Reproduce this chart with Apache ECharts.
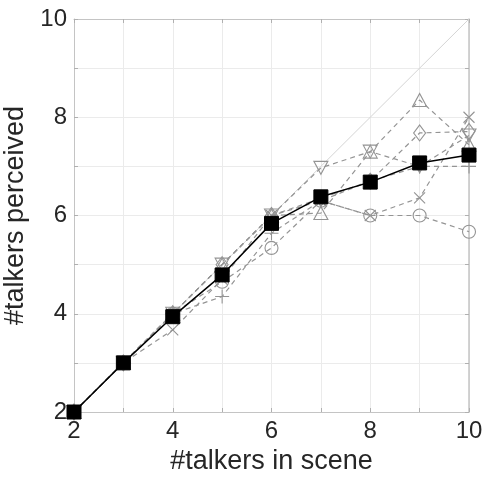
<!DOCTYPE html>
<html>
<head>
<meta charset="utf-8">
<script src="https://cdn.jsdelivr.net/npm/echarts@6/dist/echarts.min.js"></script>
<style>
html,body{margin:0;padding:0;background:#fff;}
#c{width:482px;height:479px;}
</style>
</head>
<body>
<div id="c"></div>
<script>
var xValues = [2, 3, 4, 5, 6, 7, 8, 9, 10];
var circleVals  = [2, 3, 4.00, 4.65, 5.34, 6.30, 6.00, 6.00, 5.67];
var plusVals    = [2, 3, 4.00, 4.35, 5.64, 6.30, 6.70, 7.00, 7.00];
var crossVals   = [2, 3, 3.67, 4.70, 6.00, 6.30, 6.00, 6.36, 8.00];
var diamondVals = [2, 3, 4.00, 5.00, 6.00, 6.35, 6.70, 7.68, 7.71];
var triUpVals   = [2, 3, 4.00, 5.00, 6.00, 6.05, 7.30, 8.35, 7.44];
var triDownVals = [2, 3, 4.00, 5.00, 6.00, 6.97, 7.30, 7.00, 7.63];
var meanVals    = [2, 3, 3.94, 4.79, 5.84, 6.38, 6.68, 7.07, 7.23];
var identityVals = [2, 10];
var xTickLabels = ['2', '4', '6', '8', '10'];
var yTickLabels = ['2', '4', '6', '8', '10'];

function pairs(vals) { return xValues.map(function (x, i) { return [x, vals[i]]; }); }

var GRAY = '#949494';
var FONT = '"Liberation Sans", Arial, sans-serif';

function graySeries(vals, symbol, size, rotate) {
  return {
    type: 'line', data: pairs(vals), xAxisIndex: 0, yAxisIndex: 0,
    symbol: symbol, symbolSize: size, symbolRotate: rotate || 0, showSymbol: true,
    lineStyle: { color: GRAY, width: 1.2, type: [5, 4] },
    itemStyle: { color: 'none', borderColor: GRAY, borderWidth: 1.1 },
    silent: true, animation: false, z: 3
  };
}

var chart = echarts.init(document.getElementById('c'), null, { renderer: 'canvas' });
var axisLineStyle = { color: '#c4c4c4', width: 1 };
var option = {
  backgroundColor: '#fff',
  animation: false,
  grid: { left: 74, right: 13, top: 19, bottom: 67, containLabel: false, outerBoundsMode: 'none' },
  xAxis: [{
    type: 'value', min: 2, max: 10, interval: 1,
    name: '#talkers in scene', nameLocation: 'middle', nameGap: 32,
    nameTextStyle: { fontFamily: FONT, fontSize: 27, color: '#262626' },
    axisLine: { show: true, lineStyle: axisLineStyle },
    axisTick: { show: true, inside: true, length: 4, lineStyle: { color: '#b0b0b0' } },
    axisLabel: {
      fontFamily: FONT, fontSize: 24, color: '#262626', margin: 7,
      formatter: function (v) { var s = String(v); return xTickLabels.indexOf(s) >= 0 ? s : ''; }
    },
    splitLine: { show: true, lineStyle: { color: '#ebebeb', width: 1 } }
  }, {
    type: 'value', min: 2, max: 10, interval: 1, position: 'top',
    axisLine: { show: true, lineStyle: axisLineStyle },
    axisTick: { show: true, inside: true, length: 4, lineStyle: { color: '#b0b0b0' } },
    axisLabel: { show: false }, splitLine: { show: false }
  }],
  yAxis: [{
    type: 'value', min: 2, max: 10, interval: 1,
    name: '#talkers perceived', nameLocation: 'middle', nameGap: 41,
    nameTextStyle: { fontFamily: FONT, fontSize: 27, color: '#262626' },
    axisLine: { show: true, lineStyle: axisLineStyle },
    axisTick: { show: true, inside: true, length: 4, lineStyle: { color: '#b0b0b0' } },
    axisLabel: {
      fontFamily: FONT, fontSize: 24, color: '#262626', margin: 7,
      formatter: function (v) { var s = String(v); return yTickLabels.indexOf(s) >= 0 ? s : ''; }
    },
    splitLine: { show: true, lineStyle: { color: '#ebebeb', width: 1 } }
  }, {
    type: 'value', min: 2, max: 10, interval: 1, position: 'right',
    axisLine: { show: true, lineStyle: { color: '#c4c4c4', width: 1.5 } },
    axisTick: { show: true, inside: true, length: 4, lineStyle: { color: '#b0b0b0' } },
    axisLabel: { show: false }, splitLine: { show: false }
  }],
  series: [
    {
      type: 'line', data: [[identityVals[0], identityVals[0]], [identityVals[1], identityVals[1]]],
      symbol: 'none', lineStyle: { color: '#d4d4d4', width: 1 }, silent: true, z: 2
    },
    graySeries(circleVals, 'circle', 13),
    graySeries(plusVals, 'path://M5,0L5,10M0,5L10,5', 14),
    graySeries(crossVals, 'path://M0,0L10,10M10,0L0,10', 11),
    graySeries(diamondVals, 'diamond', [12, 16]),
    graySeries(triUpVals, 'triangle', [14, 13]),
    graySeries(triDownVals, 'triangle', [14, 13], 180),
    {
      type: 'line', data: pairs(meanVals), symbol: 'rect', symbolSize: 14,
      lineStyle: { color: '#000', width: 1.5 },
      itemStyle: { color: '#000', borderColor: '#000' },
      silent: true, z: 5
    }
  ]
};
chart.setOption(option);
</script>
</body>
</html>
